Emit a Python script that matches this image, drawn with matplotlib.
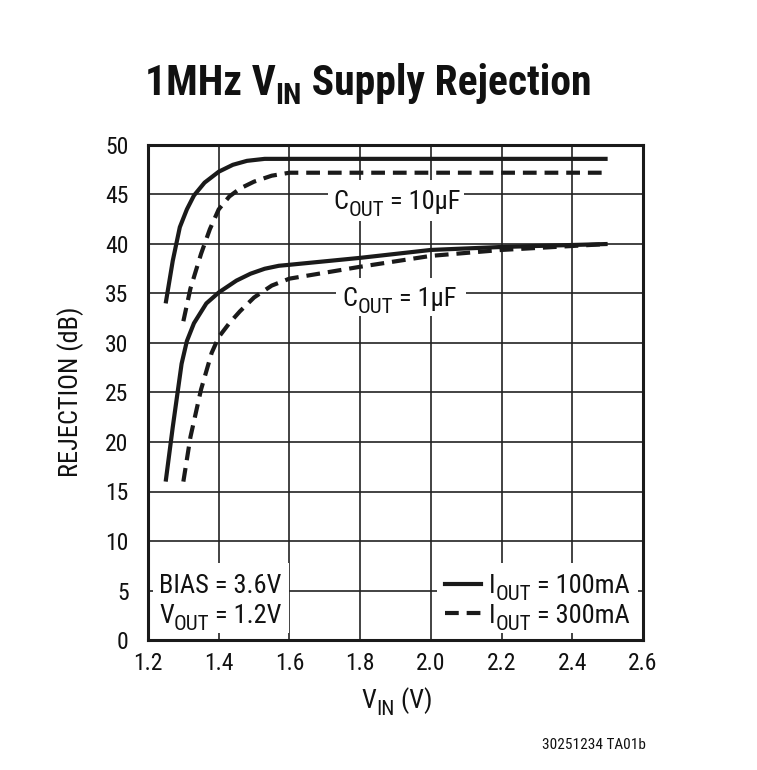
import os
import matplotlib
matplotlib.use("Agg")
import matplotlib.pyplot as plt
import matplotlib.font_manager as fm
from matplotlib.lines import Line2D
from matplotlib.patches import Rectangle

# ---- data ----
v_10u_100 = [1.25, 1.27, 1.29, 1.31, 1.33, 1.36, 1.40, 1.44, 1.48, 1.53, 1.60, 2.50]
r_10u_100 = [34.0, 38.3, 41.7, 43.5, 44.9, 46.2, 47.3, 48.0, 48.4, 48.6, 48.6, 48.6]

v_10u_300 = [1.30, 1.32, 1.35, 1.375, 1.40, 1.43, 1.46, 1.50, 1.55, 1.60, 2.50]
r_10u_300 = [32.2, 35.5, 39.0, 41.5, 43.5, 44.8, 45.6, 46.3, 46.9, 47.2, 47.2]

v_1u_100 = [1.25, 1.27, 1.295, 1.31, 1.33, 1.365, 1.40, 1.45, 1.49, 1.53, 1.57, 1.60, 1.80, 2.00, 2.20, 2.50]
r_1u_100 = [16.0, 21.5, 27.9, 30.2, 32.0, 34.0, 35.1, 36.3, 37.0, 37.5, 37.8, 37.9, 38.6, 39.4, 39.7, 40.0]

v_1u_300 = [1.30, 1.32, 1.35, 1.38, 1.40, 1.43, 1.46, 1.50, 1.55, 1.60, 1.80, 2.00, 2.20, 2.50]
r_1u_300 = [16.0, 20.5, 25.3, 29.0, 30.6, 32.0, 33.2, 34.6, 35.8, 36.5, 37.7, 38.8, 39.4, 40.0]

x_ticks = [1.2, 1.4, 1.6, 1.8, 2.0, 2.2, 2.4, 2.6]
x_tick_labels = ['1.2', '1.4', '1.6', '1.8', '2.0', '2.2', '2.4', '2.6']
y_ticks = [0, 5, 10, 15, 20, 25, 30, 35, 40, 45, 50]


# ---- fonts: a condensed grotesque, like the original ----
def font_file(*wanted):
    files = {os.path.basename(f.fname): f.fname for f in fm.fontManager.ttflist}
    for w in wanted:
        if w in files:
            return files[w]
    return None


reg_file = font_file('RobotoCondensed-Regular.ttf', 'DejaVuSansCondensed.ttf')
bold_file = font_file('RobotoCondensed-Bold.ttf', 'DejaVuSansCondensed-Bold.ttf')
fp = fm.FontProperties(fname=reg_file) if reg_file else fm.FontProperties(family='DejaVu Sans')
fpb = (fm.FontProperties(fname=bold_file) if bold_file
       else fm.FontProperties(family='DejaVu Sans', weight='bold'))

TXT = 19      # annotation / legend / label size
TICK = 17

# ---- figure ----
W, H = 757, 770
fig = plt.figure(figsize=(W / 100, H / 100), dpi=100)
ax = fig.add_axes([148 / W, (H - 640) / H, (643 - 148) / W, (640 - 145) / H])

ax.set_xlim(1.2, 2.6)
ax.set_ylim(0, 50)
ax.set_xticks(x_ticks)
ax.set_xticklabels(x_tick_labels)
ax.set_yticks(y_ticks)
ax.grid(True, color='#222222', linewidth=1.2, zorder=0)
ax.set_axisbelow(True)
ax.tick_params(length=0)
ax.tick_params(axis='x', pad=9)
ax.tick_params(axis='y', pad=14)
for lbl in ax.get_xticklabels() + ax.get_yticklabels():
    lbl.set_fontproperties(fp)
    lbl.set_fontsize(TICK)
    lbl.set_color('#111111')
for s in ax.spines.values():
    s.set_linewidth(2.2)
    s.set_color('#1a1a1a')
    s.set_zorder(10)

lw = 3.0
dash = (3.3, 1.9)
col = '#1a1a1a'
ax.plot(v_10u_100, r_10u_100, color=col, lw=lw, solid_capstyle='butt', zorder=3)
ax.plot(v_10u_300, r_10u_300, color=col, lw=lw, dashes=dash, zorder=3)
ax.plot(v_1u_100, r_1u_100, color=col, lw=lw, solid_capstyle='butt', zorder=3)
ax.plot(v_1u_300, r_1u_300, color=col, lw=lw, dashes=dash, zorder=3)

renderer = fig.canvas.get_renderer()


def rich(xpx, ypx, parts, prop, size, ha='left', sub_scale=0.8, sub_drop=0.25, z=8):
    """Draw text pieces along a baseline (ypx = baseline, px from top)."""
    objs = []
    for s, sub in parts:
        t = fig.text(0, 0, s, fontproperties=prop, fontsize=size * (sub_scale if sub else 1),
                     va='baseline', ha='left', zorder=z, color='#111111')
        objs.append((t, sub))
    widths = [t.get_window_extent(renderer).width for t, _ in objs]
    total = sum(widths)
    x = xpx - total / 2 if ha == 'center' else (xpx - total if ha == 'right' else xpx)
    x0 = x
    drop = size * sub_drop * 100 / 72
    for (t, sub), w in zip(objs, widths):
        yb = ypx + (drop if sub else 0)
        t.set_position((x / W, 1 - yb / H))
        x += w
    return x0, x


def white_box(x0, y0, x1, y1):
    fig.add_artist(Rectangle((x0 / W, 1 - y1 / H), (x1 - x0) / W, (y1 - y0) / H,
                             transform=fig.transFigure, facecolor='white',
                             edgecolor='none', zorder=6))


# annotation boxes
a0, a1 = rich(396.7, 209, [('C', False), ('OUT', True), (' = 10µF', False)], fp, TXT, ha='center')
white_box(a0 - 5, 180, a1 + 4, 221)
b0, b1 = rich(399.7, 306, [('C', False), ('OUT', True), (' = 1µF', False)], fp, TXT, ha='center')
white_box(b0 - 7, 278, b1 + 9, 316)

# bias / vout box
c0, c1 = rich(159, 593, [('BIAS = 3.6V', False)], fp, TXT)
d0, d1 = rich(159, 623, [('V', False), ('OUT', True), (' = 1.2V', False)], fp, TXT)
white_box(153, 563, max(c1, d1) + 7, 633)

# legend (drawn by hand to match the reference layout)
white_box(437, 563, 638, 633)
for ypx, ds in ((584, None), (613, dash)):
    ln = Line2D([445 / W, 481 / W], [1 - ypx / H, 1 - ypx / H], transform=fig.transFigure,
                color=col, lw=lw, zorder=8)
    if ds:
        ln.set_dashes(ds)
    fig.add_artist(ln)
rich(489, 593, [('I', False), ('OUT', True), (' = 100mA', False)], fp, TXT)
rich(489, 623, [('I', False), ('OUT', True), (' = 300mA', False)], fp, TXT)

# axis labels
rich(397, 708, [('V', False), ('IN', True), (' (V)', False)], fp, TXT, ha='center')
fig.text(71 / W, 1 - 392 / H, 'REJECTION (dB)', fontproperties=fp, fontsize=TXT,
         ha='center', va='center', rotation=90, color='#111111')

# title
rich(368, 95, [('1MHz V', False), ('IN', True), (' Supply Rejection', False)], fpb, 30,
     ha='center', sub_scale=0.72, sub_drop=0.22)

fig.text(594 / W, 1 - 745 / H, '30251234 TA01b', fontproperties=fp, fontsize=11,
         ha='center', va='center', color='#111111')

fig.savefig('out.png', dpi=100)
